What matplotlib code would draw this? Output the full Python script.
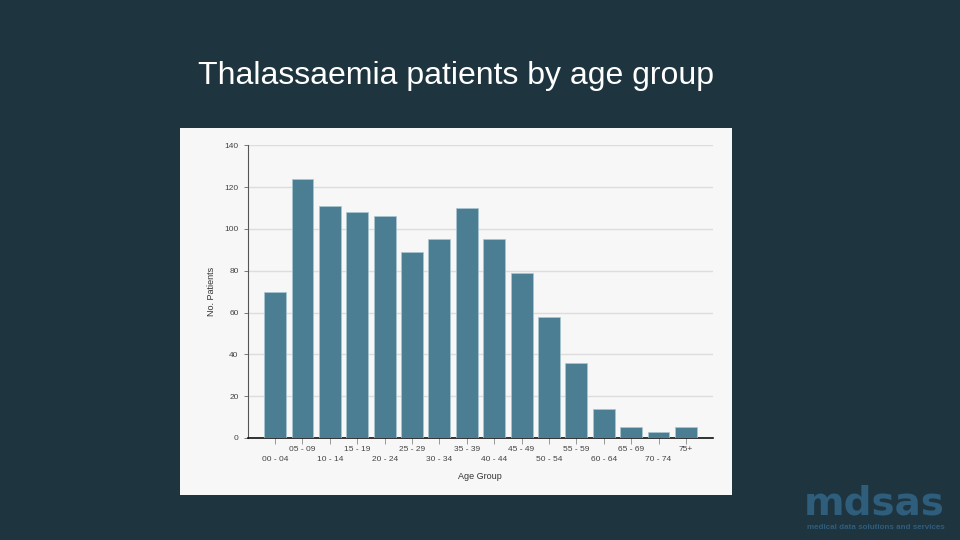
import matplotlib.pyplot as plt
from matplotlib.patches import Rectangle

age_groups = ["00 - 04", "05 - 09", "10 - 14", "15 - 19", "20 - 24", "25 - 29",
              "30 - 34", "35 - 39", "40 - 44", "45 - 49", "50 - 54", "55 - 59",
              "60 - 64", "65 - 69", "70 - 74", "75+"]
patients = [70, 124, 111, 108, 106, 89, 95, 110, 95, 79, 58, 36, 14, 5, 3, 5]
y_ticks = [0, 20, 40, 60, 80, 100, 120, 140]

plt.rcParams['font.family'] = ['Liberation Sans', 'DejaVu Sans']

fig = plt.figure(figsize=(9.6, 5.4), dpi=100)
fig.patch.set_facecolor('#1e3540')

# white panel behind the chart
fig.patches.append(Rectangle((0.1875, 0.0833), 0.575, 0.68, transform=fig.transFigure,
                             facecolor='#f7f7f7', edgecolor='none', zorder=-1))

fig.text(0.4755, 0.86, "Thalassaemia patients by age group", color='white',
         fontsize=23, ha='center', va='center')

ax = fig.add_axes([0.258, 0.189, 0.485, 0.542])
ax.set_zorder(1)
ax.set_facecolor('#f7f7f7')
x = list(range(len(age_groups)))
ax.bar(x, patients, width=0.8, color='#4b7e93', edgecolor='#a9c6d2', linewidth=0.5, zorder=3)

ax.set_xlim(-1, 16)
ax.set_ylim(0, 140)
ax.set_yticks(y_ticks)
ax.set_xticks(x)
labels = [("\n" + g) if i % 2 == 0 else g for i, g in enumerate(age_groups)]
ax.set_xticklabels(labels, fontsize=6, color='#444444', linespacing=1.5)
ax.tick_params(axis='y', labelsize=6, labelcolor='#444444', color='#666666', length=3, width=0.6)
ax.tick_params(axis='x', color='#888888', length=4, width=0.6, pad=2)
ax.grid(axis='y', color='#dddddd', linewidth=1, zorder=0)
for s in ['top', 'right']:
    ax.spines[s].set_visible(False)
ax.spines['left'].set_color('#555555')
ax.spines['left'].set_linewidth(0.8)
ax.spines['bottom'].set_color('#111111')
ax.spines['bottom'].set_linewidth(1.2)

ax.set_ylabel("No. Patients", fontsize=6.5, color='#333333', labelpad=6)
ax.set_xlabel("Age Group", fontsize=6.5, color='#333333')
ax.xaxis.set_label_coords(0.499, -0.116)

# logo
fig.text(0.984, 0.048, "mdsas", color='#2f5d7c', fontsize=28, fontweight='bold',
         family='DejaVu Sans', ha='right', va='baseline')
fig.text(0.984, 0.0296, "medical data solutions and services", color='#2f5d7c',
         fontsize=5.8, fontweight='bold', ha='right', va='top')

fig.savefig("out.png", dpi=100, facecolor=fig.get_facecolor())
